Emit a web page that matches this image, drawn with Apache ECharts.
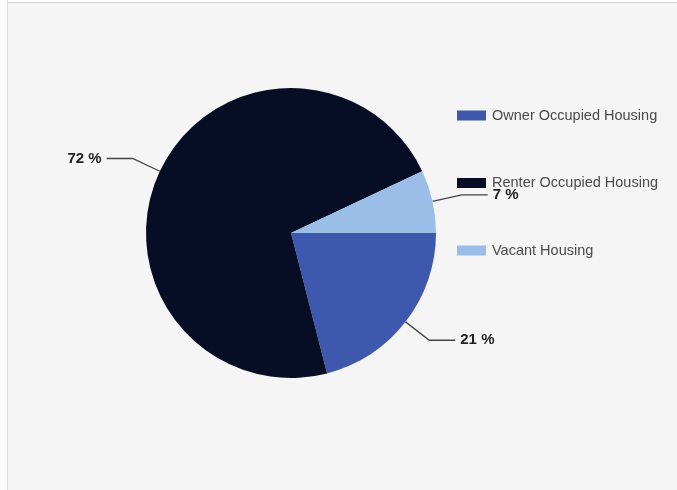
<!DOCTYPE html>
<html>
<head>
<meta charset="utf-8">
<script src="https://cdn.jsdelivr.net/npm/echarts@6/dist/echarts.min.js"></script>
<style>
html,body{margin:0;padding:0;background:#f5f5f5;}
#chart{position:absolute;left:0;top:0;width:677px;height:490px;}
#bt{position:absolute;left:0;top:0;width:677px;height:2px;background:#fff;border-bottom:1px solid #cfcfcf;}
#bl{position:absolute;left:0;top:0;width:7px;height:490px;background:#fbfbfb;border-right:1px solid #dcdcdc;}
</style>
</head>
<body>
<div id="chart"></div>
<div id="bt"></div>
<div id="bl"></div>
<script>
const categories = ['Owner Occupied Housing', 'Renter Occupied Housing', 'Vacant Housing'];
const values = [21, 72, 7];
const colors = ['#3e58ae', '#070d24', '#9abee7'];

const chart = echarts.init(document.getElementById('chart'));
chart.setOption({
  backgroundColor: 'transparent',
  animation: false,
  color: colors,
  legend: {
    orient: 'vertical',
    left: 452,
    top: 103,
    itemGap: 52.5,
    itemWidth: 29,
    itemHeight: 10,
    icon: 'rect',
    data: categories,
    textStyle: { fontFamily: 'Arial, "Liberation Sans", sans-serif', fontSize: 14.5, color: '#4a4a4a', padding: [0, 0, 0, 1] }
  },
  series: [{
    type: 'pie',
    center: [291, 233],
    radius: 145,
    startAngle: 0,
    clockwise: true,
    itemStyle: { borderWidth: 0 },
    label: {
      show: true,
      formatter: '{c} %',
      fontFamily: 'Arial, "Liberation Sans", sans-serif',
      fontSize: 15,
      fontWeight: 'bold',
      color: '#222'
    },
    labelLine: {
      show: true,
      length: 30,
      length2: 26,
      lineStyle: { color: '#444', width: 1.3 }
    },
    emphasis: { disabled: true },
    data: categories.map((c, i) => ({ name: c, value: values[i] }))
  }]
});
</script>
</body>
</html>
